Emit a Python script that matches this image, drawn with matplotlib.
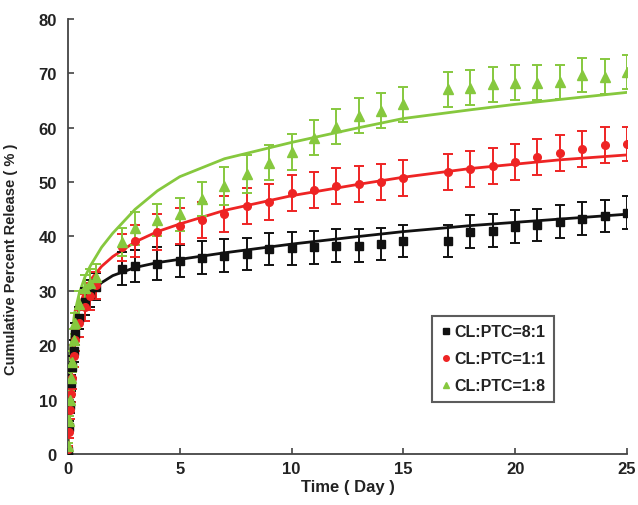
import matplotlib
matplotlib.use("Agg")
import matplotlib.pyplot as plt
from matplotlib.lines import Line2D

plt.rcParams['font.family'] = ['Liberation Sans', 'DejaVu Sans']
plt.rcParams['font.weight'] = 'bold'

# ---- data ----
time_days = [0, 0.04, 0.08, 0.125, 0.17, 0.25, 0.33, 0.5, 0.75, 1.0, 1.25,
             2.4, 3, 4, 5, 6, 7, 8, 9, 10, 11, 12, 13, 14, 15,
             17, 18, 19, 20, 21, 22, 23, 24, 25]

rel_8_1 = [0.5, 5, 9, 13, 16, 19, 22, 25, 28, 29.5, 30.8,
           34.1, 34.6, 35.0, 35.5, 36.1, 36.5, 36.8, 37.7, 37.8, 38.0, 38.3, 38.3, 38.6, 39.2,
           39.2, 40.9, 41.1, 41.8, 42.1, 42.7, 43.3, 43.8, 44.4]
err_8_1 = [0.5, 1, 1.5, 1.5, 2, 2, 2, 2, 2.5, 2.5, 2.5,
           3, 3, 3, 3, 3, 3, 3, 3, 3, 3, 3, 3, 3, 3,
           3, 3, 3, 3, 3, 3, 3, 3, 3]

rel_1_1 = [1, 4, 8, 11, 14, 18, 21, 24, 27, 29, 31,
           38.0, 39.2, 40.9, 42.0, 43.0, 44.1, 45.6, 46.3, 48.0, 48.6, 49.3, 49.6, 50.1, 50.7,
           51.8, 52.4, 53.0, 53.7, 54.7, 55.3, 56.1, 56.8, 57.0]
err_1_1 = [0.5, 1, 1.5, 1.5, 2, 2, 2, 2.5, 2.5, 2.5, 2.5,
           2.5, 3, 3.3, 3.3, 3.3, 3.3, 3.3, 3.3, 3.3, 3.3, 3.3, 3.3, 3.3, 3.3,
           3.3, 3.3, 3.3, 3.3, 3.3, 3.3, 3.3, 3.3, 3.2]

rel_1_8 = [1.5, 6, 10, 14, 17, 21, 24, 27.5, 30.5, 31.5, 32.5,
           39.0, 41.5, 43.0, 44.1, 46.9, 49.3, 51.5, 53.6, 55.6, 58.2, 60.2, 62.2, 63.1, 64.3,
           67.1, 67.4, 68.0, 68.3, 68.3, 68.4, 69.7, 69.4, 70.2]
err_1_8 = [0.5, 1, 1.5, 1.5, 2, 2, 2, 2.5, 2.5, 2.5, 2.5,
           2.5, 3, 3, 3, 3.2, 3.5, 3.5, 3.3, 3.3, 3.3, 3.2, 3.2, 3.2, 3.2,
           3.2, 3.2, 3.2, 3.2, 3.2, 3.2, 3.2, 3.2, 3.1]

fit_time = [0, 0.02, 0.05, 0.1, 0.2, 0.3, 0.5, 0.75, 1, 1.5, 2, 3, 4, 5, 7, 10, 13, 15, 18, 20, 22, 25]
fit_8_1 = [0, 8, 14, 18.5, 22, 24, 26.5, 28.5, 29.8, 31.5, 32.8, 34.3, 35.2, 35.8, 37.0, 38.6, 40.0, 40.9, 42.0, 42.6, 43.2, 44.1]
fit_1_1 = [0, 6, 12, 16.5, 21, 23.5, 27, 30, 32, 34.5, 36.3, 39, 40.9, 42.3, 44.8, 47.5, 49.6, 50.9, 52.5, 53.3, 54.1, 55.0]
fit_1_8 = [0, 7, 13, 18, 23, 26, 29.5, 32.5, 34.6, 38.0, 40.6, 45.0, 48.4, 51.0, 54.3, 57.3, 60.0, 61.7, 63.3, 64.3, 65.2, 66.5]

labels = ["CL:PTC=8:1", "CL:PTC=1:1", "CL:PTC=1:8"]
x_ticks = [0, 5, 10, 15, 20, 25]
y_ticks = [0, 10, 20, 30, 40, 50, 60, 70, 80]

c_black = "#111111"
c_red = "#ee2424"
c_green = "#86c83e"

fig = plt.figure(figsize=(6.38, 5.06), dpi=100)
ax = fig.add_axes([0.1066, 0.1008, 0.876, 0.8597])

series = [
    (rel_8_1, err_8_1, fit_8_1, c_black, 's', 5.5),
    (rel_1_1, err_1_1, fit_1_1, c_red, 'o', 5.5),
    (rel_1_8, err_1_8, fit_1_8, c_green, '^', 6.5),
]
for rel, err, fit, col, mk, ms in series:
    ax.plot(fit_time, fit, color=col, lw=2, zorder=2)
    ax.errorbar(time_days, rel, yerr=err, fmt=mk, color=col, ms=ms,
                capsize=3.5, elinewidth=1.4, capthick=1.4, zorder=3)

ax.set_xlim(0, 25)
ax.set_ylim(0, 80)
ax.set_xticks(x_ticks)
ax.set_yticks(y_ticks)
for s in ['top', 'right']:
    ax.spines[s].set_visible(False)
for s in ['left', 'bottom']:
    ax.spines[s].set_color('#444444')
    ax.spines[s].set_linewidth(1.3)
ax.tick_params(axis='both', direction='in', length=4, width=1.2, color='#444444',
               labelsize=12, colors='#222222')
ax.tick_params(axis='x', pad=5)
ax.tick_params(axis='y', pad=8)
for lab in ax.get_xticklabels() + ax.get_yticklabels():
    lab.set_fontweight('bold')

ax.set_xlabel("Time ( Day )", fontsize=12, fontweight='bold', color='#222222')
ax.xaxis.set_label_coords(0.5, -0.058)
ax.set_ylabel("Cumulative Percent Release ( % )", fontsize=10.5, fontweight='bold', color='#222222')
ax.yaxis.set_label_coords(-0.089, 0.45)

handles = [Line2D([], [], ls='none', marker='s', color=c_black, ms=4),
           Line2D([], [], ls='none', marker='o', color=c_red, ms=4),
           Line2D([], [], ls='none', marker='^', color=c_green, ms=5)]
leg = ax.legend(handles, labels, loc='upper left', bbox_to_anchor=(0.652, 0.318),
                prop={'family': 'Liberation Sans', 'weight': 'bold', 'size': 11.5},
                handlelength=0.6, handletextpad=0.2, labelspacing=0.75,
                borderpad=0.55, frameon=True, fancybox=False, borderaxespad=0)
leg.get_frame().set_edgecolor('#333333')
leg.get_frame().set_linewidth(1.5)
for t in leg.get_texts():
    t.set_color('#222222')

fig.savefig("out.png", dpi=100)
